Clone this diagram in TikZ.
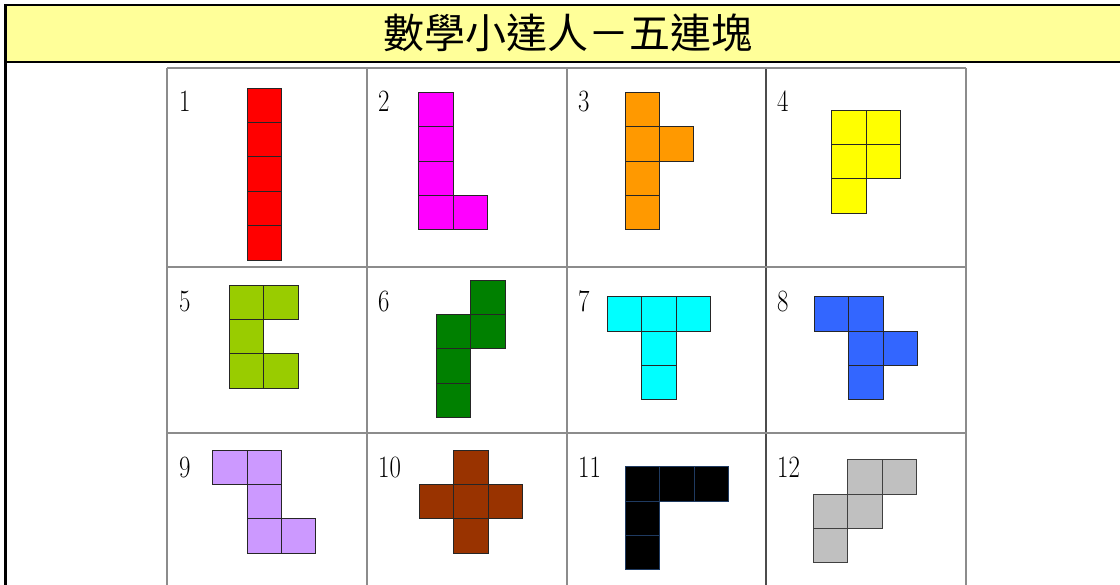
\documentclass[tikz,border=0pt]{standalone}
\usepackage{fontspec}
\newfontfamily\cjk{Noto Sans CJK TC}
\definecolor{titlebg}{HTML}{FFFF99}
\definecolor{gridgray}{HTML}{8C8C8C}
\definecolor{cRed}{HTML}{FF0000}
\definecolor{cMagenta}{HTML}{FF00FF}
\definecolor{cOrange}{HTML}{FF9900}
\definecolor{cYellow}{HTML}{FFFF00}
\definecolor{cLime}{HTML}{99CC00}
\definecolor{cGreen}{HTML}{008000}
\definecolor{cCyan}{HTML}{00FFFF}
\definecolor{cBlue}{HTML}{3366FF}
\definecolor{cLav}{HTML}{CC99FF}
\definecolor{cBrown}{HTML}{993300}
\definecolor{cBlack}{HTML}{000000}
\definecolor{cGray}{HTML}{C0C0C0}
\definecolor{navyedge}{HTML}{1F3A60}
\tikzset{
  frame/.style={line width=2.5pt, black},
  grid line/.style={line width=1.4pt, gridgray},
  numlabel/.style={anchor=base west, inner sep=0pt, font=\fontsize{31}{31}\selectfont},
  cellsq/.style={line width=0.9pt, draw=black!85},
}
\newcommand{\piece}[5]{%
  % #1 x0, #2 y0, #3 fill, #4 draw, #5 cell list
  \foreach \cx/\cy in {#5}{
    \filldraw[cellsq, fill=#3, draw=#4] ({#1+\cx*34.4},{#2+\cy*34.4}) rectangle ++(34.4,34.4);
  }%
}
\begin{document}
\begin{tikzpicture}[x=1pt,y=-1pt]
\useasboundingbox (0,0) rectangle (1120,585);
\clip (0,0) rectangle (1120,585);
\fill[white] (0,0) rectangle (1120,585);
% title band
\fill[titlebg] (5.7,5) rectangle (1125,62);
\draw[frame] (1125,5) -- (5.7,5) -- (5.7,590);
\draw[frame] (5.7,62) -- (1125,62);
\node[inner sep=0pt] (title) at (567.5,33) {\cjk\fontsize{41}{41}\selectfont 數學小達人－五連塊};
% grid
\foreach \gx in {167,367,567,966}{
  \draw[grid line] (\gx,68) -- (\gx,590);
}
\draw[line width=1.2pt, black!70] (766,68) -- (766,590);
\foreach \gy in {68,267,433}{
  \draw[grid line] (167,\gy) -- (966,\gy);
}
% pieces
\piece{247.3}{88}{cRed}{black!85}{0/0,0/1,0/2,0/3,0/4}
\piece{418.7}{92.3}{cMagenta}{black!85}{0/0,0/1,0/2,0/3,1/3}
\piece{625}{92.3}{cOrange}{black!85}{0/0,0/1,1/1,0/2,0/3}
\piece{831.7}{110}{cYellow}{black!85}{0/0,1/0,0/1,1/1,0/2}
\piece{229.3}{285}{cLime}{black!85}{0/0,1/0,0/1,0/2,1/2}
\piece{436.3}{280}{cGreen}{black!85}{1/0,0/1,1/1,0/2,0/3}
\piece{607.3}{296.7}{cCyan}{black!85}{0/0,1/0,2/0,1/1,1/2}
\piece{814.3}{296.7}{cBlue}{black!85}{0/0,1/0,1/1,2/1,1/2}
\piece{212.7}{450}{cLav}{black!85}{0/0,1/0,1/1,1/2,2/2}
\piece{419.3}{450}{cBrown}{black!85}{1/0,0/1,1/1,2/1,1/2}
\piece{625.3}{466.7}{cBlack}{navyedge}{0/0,1/0,2/0,0/1,0/2}
\piece{813.3}{459.7}{cGray}{black!75}{1/0,2/0,0/1,1/1,0/2}
% labels
\node[numlabel] (n1) at (179,112) {\scalebox{0.8}[1]{1}};
\node[numlabel] (n2) at (378,112) {\scalebox{0.8}[1]{2}};
\node[numlabel] (n3) at (578,112) {\scalebox{0.8}[1]{3}};
\node[numlabel] (n4) at (777,112) {\scalebox{0.8}[1]{4}};
\node[numlabel] (n5) at (179,312) {\scalebox{0.8}[1]{5}};
\node[numlabel] (n6) at (378,312) {\scalebox{0.8}[1]{6}};
\node[numlabel] (n7) at (578,312) {\scalebox{0.8}[1]{7}};
\node[numlabel] (n8) at (777,312) {\scalebox{0.8}[1]{8}};
\node[numlabel] (n9) at (179,477) {\scalebox{0.8}[1]{9}};
\node[numlabel] (n10) at (378,477) {\scalebox{0.8}[1]{10}};
\node[numlabel] (n11) at (578,477) {\scalebox{0.8}[1]{11}};
\node[numlabel] (n12) at (777,477) {\scalebox{0.8}[1]{12}};
\end{tikzpicture}
\end{document}
